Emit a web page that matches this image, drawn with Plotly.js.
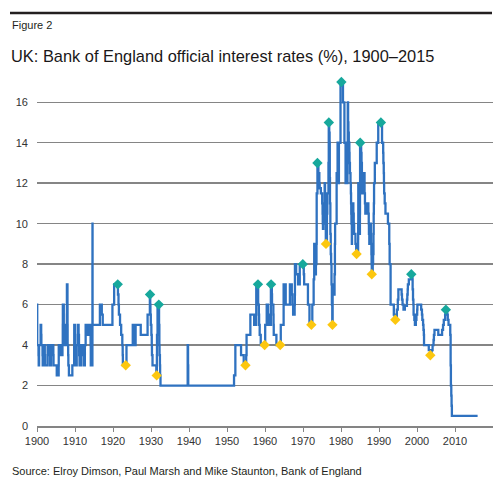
<!DOCTYPE html>
<html>
<head>
<meta charset="utf-8">
<script src="https://cdn.plot.ly/plotly-3.0.1.min.js"></script>
<style>html,body{margin:0;padding:0;background:#fff;}#chart{width:499px;height:488px;}</style>
</head>
<body>
<div id="chart"></div>
<script>
// Bank rate changes (decimal year, %), step series
const dates = [
1900.00,1900.06,1900.40,1900.45,1900.55,1900.95,1901.10,1901.15,1901.45,1901.50,1901.80,1902.05,1902.12,1902.80,
1903.35,1903.45,1903.70,1904.30,1904.35,1905.20,1905.70,1905.72,1906.30,1906.70,1906.78,1906.80,1907.05,1907.30,
1907.32,1907.60,1907.85,1907.87,1908.02,1908.04,1908.06,1908.20,1908.25,1908.40,1909.30,1909.78,1909.80,1910.00,
1910.05,1910.12,1910.20,1910.45,1910.75,1910.95,1911.05,1911.10,1911.20,1911.70,1912.10,1912.40,1912.60,1912.80,
1913.30,1913.80,1914.05,1914.10,1914.15,1914.58,1914.59,1914.60,1914.62,1914.63,1916.55,1917.05,1917.30,1919.85,
1920.30,1921.30,1921.45,1921.55,1921.85,1922.15,1922.45,1922.55,1922.60,1923.55,1925.20,1925.60,1925.80,1925.95,
1927.30,1929.10,1929.70,1929.80,1929.85,1929.95,1930.10,1930.20,1930.25,1930.40,1931.40,1931.55,1931.58,1931.72,
1932.12,1932.20,1932.25,1932.35,1932.40,1932.50,1939.65,1939.75,1939.80,1951.85,1952.20,1953.70,1954.40,1955.05,
1955.15,1956.15,1957.15,1957.70,1958.20,1958.38,1958.45,1958.60,1958.88,1960.05,1960.45,1960.80,1960.95,1961.55,
1961.80,1961.85,1962.20,1962.25,1962.30,1963.00,1964.15,1964.90,1965.45,1966.55,1967.05,1967.20,1967.40,1967.80,
1967.85,1967.88,1968.20,1968.70,1969.15,1970.20,1970.30,1971.30,1971.70,1972.45,1972.80,1972.95,1973.05,1973.20,
1973.30,1973.35,1973.40,1973.55,1973.60,1973.80,1974.05,1974.30,1974.40,1974.70,1975.05,1975.15,1975.20,1975.25,
1975.35,1975.55,1975.70,1975.80,1975.90,1976.00,1976.30,1976.40,1976.70,1976.78,1976.90,1977.00,1977.05,1977.10,
1977.20,1977.30,1977.40,1977.50,1977.60,1977.70,1977.80,1978.00,1978.30,1978.40,1978.45,1978.85,1979.10,1979.20,
1979.30,1979.45,1979.87,1980.52,1980.90,1981.20,1981.70,1981.78,1981.87,1981.95,1982.05,1982.20,1982.25,1982.35,
1982.50,1982.60,1982.65,1982.70,1982.75,1982.85,1982.90,1983.05,1983.25,1983.35,1983.45,1983.80,1984.00,1984.10,
1984.50,1984.52,1984.55,1984.60,1984.65,1984.70,1984.85,1984.90,1984.98,1985.00,1985.02,1985.30,1985.40,1985.50,
1985.55,1985.60,1986.05,1986.20,1986.30,1986.40,1986.80,1987.20,1987.30,1987.35,1987.45,1987.60,1987.85,1987.90,
1988.00,1988.05,1988.10,1988.35,1988.45,1988.55,1988.60,1988.65,1988.70,1988.90,1989.40,1989.80,1990.80,1991.10,
1991.15,1991.25,1991.30,1991.35,1991.50,1991.70,1992.35,1992.70,1992.80,1993.05,1993.90,1994.10,1994.70,1994.95,
1995.10,1995.95,1996.05,1996.20,1996.45,1996.80,1997.35,1997.45,1997.55,1997.60,1997.85,1998.45,1998.80,1998.85,
1998.95,1999.05,1999.10,1999.30,1999.45,1999.70,1999.85,2000.05,2000.10,2001.10,2001.30,2001.40,2001.60,2001.70,
2001.80,2001.85,2003.10,2003.55,2003.85,2004.10,2004.35,2004.45,2004.60,2005.60,2006.60,2006.85,2007.05,2007.40,
2007.50,2007.95,2008.10,2008.30,2008.75,2008.85,2008.92,2009.02,2009.10,2009.18,2015.95];
const rates = [
6,4,3.5,3,4,5,4.5,4,3.5,3,4,3.5,3,4,
3.5,3,4,3.5,3,2.5,3,4,3.5,4,5,6,5,4.5,
4,4.5,5.5,7,6,5,4,3.5,3,2.5,3,4,5,4.5,
4,3.5,3,4,5,4.5,4,3.5,3,4,3.5,3,4,5,
4.5,5,4.5,4,3,4,8,10,6,5,6,5.5,5,6,
7,6.5,6,5.5,5,4.5,4,3.5,3,4,5,4.5,4,5,
4.5,5.5,6.5,6,5.5,5,4.5,4,3.5,3,2.5,3.5,4.5,6,
5,4,3.5,3,2.5,2,4,3,2,2.5,4,3.5,3,3.5,
4.5,5.5,5,7,6,5.5,5,4.5,4,5,6,5.5,5,7,
6.5,6,5.5,5,4.5,4,5,7,6,7,6.5,6,5.5,6,
6.5,8,7.5,7,8,7.5,7,6,5,6,7.25,9,8.75,8.25,
7.75,7.5,8,9,11.5,13,12.5,12,11.75,11.5,11,10.5,10,9.75,
10,11,12,11.5,11,9,10.5,11.5,13,15,14.5,14,12.25,11,
9.5,8.5,8,7,6,5,7,6.5,7.5,9,10,12.5,14,13,
12,14,17,16,14,12,14,16,15,14.5,14,13.5,13,12.5,
12,11.5,11,10.5,10,9,10.25,11,10.5,10,9.5,9,8.75,8.5,
9.25,10,12,11.5,11,10.5,10,9.5,10.5,12,14,13.5,13,12.5,
12,11.5,12.5,11.5,11,10.5,11,10.5,10,9.5,9,10,9.5,9,
8.5,8,7.5,8,8.5,9.5,10.5,11,12,13,14,15,14,13.5,
13,12.5,12,11.5,11,10.5,10,9,8,6,5.5,5.25,5.75,6.25,
6.75,6.5,6.25,6,5.75,5.94,6.25,6.5,6.75,7,7.25,7.5,7.25,6.75,
6.25,6,5.5,5.25,5,5.25,5.5,5.75,6,5.75,5.5,5.25,5,4.75,
4.5,4,3.75,3.5,3.75,4,4.25,4.5,4.75,4.5,4.75,5,5.25,5.5,
5.75,5.5,5.25,5,4.5,3,2,1.5,1,0.5,0.5];

const peakYears = [1921.25,1929.75,1932.05,1958.15,1961.6,1969.95,1973.8,1976.8,1980.1,1985.05,1990.5,1998.5,2007.6];
const peakRates = [7,6.5,6,7,7,8,13,15,17,14,15,7.5,5.75];
const troughYears = [1923.35,1931.5,1954.85,1959.9,1964.0,1972.2,1976.05,1977.75,1984.1,1988.1,1994.3,2003.5];
const troughRates = [3,2.5,3,4,4,5,9,5,8.5,7.5,5.25,3.5];

const xTickVals = [1900,1910,1920,1930,1940,1950,1960,1970,1980,1990,2000,2010];
const yTickVals = [0,2,4,6,8,10,12,14,16];

const W = 499, H = 488;
const M = {l: 37, r: 6, t: 78, b: 62};
const pw = W - M.l - M.r, ph = H - M.t - M.b;
const px = x => (x - M.l) / pw;
const py = y => (H - M.b - y) / ph;

const font = "'Liberation Sans', Arial, sans-serif";

const traces = [
  {x: dates, y: rates, type: 'scatter', mode: 'lines', line: {color: '#2f72c0', width: 2.3, shape: 'hv'}, hoverinfo: 'skip'},
  {x: peakYears, y: peakRates, type: 'scatter', mode: 'markers', cliponaxis: false,
   marker: {symbol: 'diamond', size: 8, color: '#17a89c'}},
  {x: troughYears, y: troughRates, type: 'scatter', mode: 'markers', cliponaxis: false,
   marker: {symbol: 'diamond', size: 8, color: '#fcc70f'}}
];

const layout = {
  width: W, height: H,
  margin: M,
  paper_bgcolor: '#fff', plot_bgcolor: '#fff',
  showlegend: false,
  font: {family: font, color: '#333', size: 11},
  xaxis: {
    range: [1900, 2020], tickmode: 'array', tickvals: xTickVals,
    showgrid: false, zeroline: false,
    showline: true, linecolor: '#848484', linewidth: 1.5,
    ticks: 'outside', ticklen: 4, tickcolor: '#848484', tickwidth: 1,
    tickfont: {family: font, size: 11, color: '#333'}
  },
  yaxis: {
    range: [0, 17.2], tickmode: 'array', tickvals: yTickVals,
    showgrid: true, gridcolor: '#858585', gridwidth: 1.5,
    zeroline: false, showline: false, ticks: '',
    ticklabelstandoff: 8,
    tickfont: {family: font, size: 11, color: '#333'}
  },
  shapes: [
    {type: 'line', xref: 'paper', yref: 'paper', x0: px(10), x1: px(492), y0: py(13), y1: py(13),
     line: {color: '#231f20', width: 2.5}}
  ],
  annotations: [
    {xref: 'paper', yref: 'paper', x: px(10), y: py(25), xanchor: 'left', yanchor: 'middle', showarrow: false,
     text: 'Figure 2', font: {family: font, size: 11, color: '#231f20'}},
    {xref: 'paper', yref: 'paper', x: px(9), y: py(56), xanchor: 'left', yanchor: 'middle', showarrow: false,
     text: 'UK: Bank of England official interest rates (%), 1900–2015', font: {family: font, size: 16.4, color: '#1a1718'}},
    {xref: 'paper', yref: 'paper', x: px(10), y: py(471), xanchor: 'left', yanchor: 'middle', showarrow: false,
     text: 'Source: Elroy Dimson, Paul Marsh and Mike Staunton, Bank of England', font: {family: font, size: 11, color: '#231f20'}}
  ]
};

Plotly.newPlot('chart', traces, layout, {staticPlot: true, displayModeBar: false});
</script>
</body>
</html>
